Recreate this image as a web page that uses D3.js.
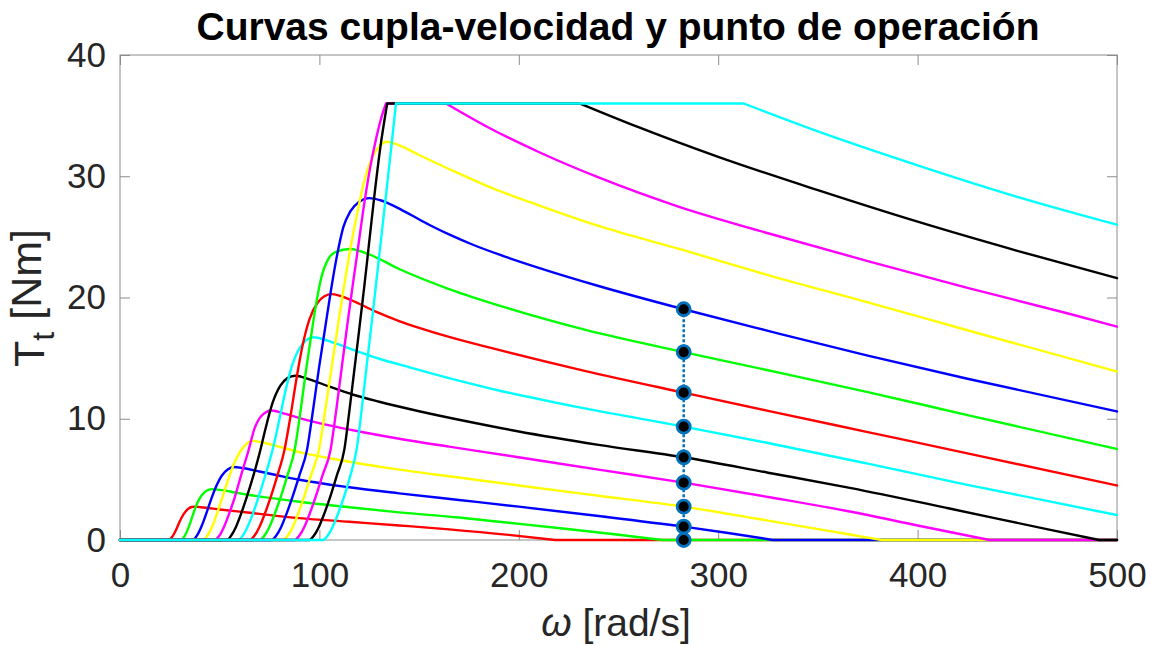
<!DOCTYPE html>
<html>
<head>
<meta charset="utf-8">
<script src="https://cdn.jsdelivr.net/npm/d3@7"></script>
<style>
  body { margin: 0; background: #ffffff; }
  svg { display: block; font-family: "Liberation Sans", Arial, Helvetica, sans-serif; }
</style>
</head>
<body>
<svg id="chart" width="1151" height="646"></svg>
<script>
// Torque–speed curves: each entry is [omega (rad/s), torque (Nm)]
const curveRed1 = [[0,0],[24.2,0],[26,0.22],[28,0.8],[30,1.55],[32,2.15],[34,2.55],[36,2.72],[37.6,2.75],[42,2.68],[50,2.52],[65,2.25],[90,1.8],[115,1.5],[140,1.2],[165,0.88],[195,0.42],[218,0],[500,0]];
const curveGreen1 = [[0,0],[30.4,0],[32.3,0.3],[34.3,1.0],[36.3,1.95],[38.5,2.95],[40.8,3.65],[43.2,4.05],[46,4.2],[50,4.13],[60,3.85],[75,3.47],[90,3.15],[115,2.7],[140,2.28],[170,1.85],[195,1.42],[222,0.95],[248,0.47],[272,0],[500,0]];
const curveBlue1 = [[0,0],[36.4,0],[38.5,0.35],[40.8,1.1],[43.2,2.15],[45.7,3.35],[48.3,4.45],[51,5.3],[54,5.82],[57,6.02],[62,5.92],[70,5.65],[80,5.3],[90,4.97],[115,4.35],[140,3.85],[170,3.3],[200,2.75],[240,1.98],[282.7,1.1],[305,0.58],[327.5,0],[500,0]];
const curveYellow1 = [[0,0],[41.7,0],[43.8,0.35],[46.2,1.1],[48.8,2.25],[51.5,3.6],[54.3,5.0],[57.2,6.3],[60.3,7.3],[63.3,7.9],[66.5,8.18],[72,8.02],[80,7.68],[90,7.25],[110,6.6],[140,5.8],[170,5.15],[200,4.5],[240,3.65],[282.7,2.75],[325,1.6],[366,0.45],[382,0],[500,0]];
const curveMagenta1 = [[0,0],[47.6,0],[49.8,0.35],[52.2,1.1],[54.8,2.2],[57.5,3.5],[61,5.5],[64.3,7.3],[67.5,9.2],[71,10.25],[76,10.68],[82,10.45],[90,10.05],[105,9.45],[120,8.95],[140,8.35],[165,7.7],[195,6.95],[240,5.8],[282.7,4.73],[325,3.55],[366,2.35],[400,1.2],[436,0],[500,0]];
const curveBlack1 = [[0,0],[53.5,0],[55.7,0.35],[58.2,1.1],[60.8,2.2],[63.6,3.55],[66.7,5.2],[69.9,7.1],[73,9.2],[76.5,11.3],[80.5,12.75],[84,13.35],[87.8,13.55],[95,13.25],[105,12.65],[116.6,12.0],[130,11.4],[150,10.62],[175,9.75],[200,8.95],[240,7.85],[282.7,6.82],[325,5.55],[366,4.3],[416,2.6],[466,0.85],[491,0],[500,0]];
const curveCyan1 = [[0,0],[59.3,0],[61.5,0.35],[64,1.1],[66.7,2.2],[69.6,3.6],[72.8,5.3],[76.3,7.3],[79.5,9.6],[83,12.3],[86.5,14.5],[90,15.8],[93.5,16.5],[97,16.72],[104,16.45],[115,15.8],[130,14.95],[145,14.25],[165,13.35],[187,12.45],[233,10.85],[282.7,9.35],[325,8.0],[375,6.3],[425,4.55],[500,2.06]];
const curveRed2 = [[0,0],[65.2,0],[67.4,0.35],[70,1.1],[72.7,2.2],[75.7,3.6],[79,5.35],[82.5,7.45],[85.5,10.2],[88.5,13.3],[91.5,16.0],[95,18.2],[99,19.55],[102.5,20.1],[106.2,20.28],[115,19.85],[128,18.85],[140,18.05],[165,16.75],[187,15.8],[233,13.95],[282.7,12.15],[325,10.65],[375,8.9],[425,7.15],[500,4.5]];
const curveGreen2 = [[0,0],[70.2,0],[72.4,0.35],[75,1.1],[77.7,2.2],[80.7,3.6],[84,5.35],[87.6,7.45],[90.5,10.6],[93.3,14.0],[96,17.0],[98.6,19.7],[101.2,21.8],[104.2,23.1],[108,23.75],[115.5,24.0],[125,23.55],[140,22.35],[165,20.7],[187,19.5],[233,17.35],[282.7,15.5],[325,14.0],[375,12.2],[425,10.3],[500,7.5]];
const curveBlue2 = [[0,0],[76.1,0],[78.3,0.35],[80.9,1.1],[83.6,2.2],[86.6,3.6],[90,5.35],[93.8,7.45],[96.8,10.7],[99.8,14.2],[102.8,17.4],[105.8,20.6],[109,23.6],[112,25.8],[115.5,27.1],[120,27.9],[125,28.2],[131,28.0],[138,27.5],[146,26.8],[155,26.0],[165,25.2],[177,24.35],[190,23.55],[210,22.45],[240,20.95],[282.7,19.03],[325,17.25],[375,15.2],[425,13.3],[500,10.6]];
const curveYellow2 = [[0,0],[81.9,0],[84.1,0.35],[86.7,1.1],[89.4,2.2],[92.4,3.6],[95.8,5.35],[99.8,7.45],[103,10.8],[106.2,14.3],[109.2,17.6],[112.3,20.9],[115.5,24.0],[119,27.0],[123,29.9],[127,31.7],[130.5,32.55],[134,32.85],[140,32.55],[150,31.75],[165,30.6],[187,29.0],[210,27.6],[240,25.9],[282.7,23.9],[325,21.85],[375,19.6],[425,17.3],[500,13.9]];
const curveMagenta2 = [[0,0],[87.7,0],[89.9,0.35],[92.5,1.1],[95.2,2.2],[98.2,3.6],[101.6,5.35],[105.6,7.45],[108.6,10.9],[111.5,14.6],[114.2,18.0],[116.7,21.0],[119.2,23.9],[122,27.2],[125,30.3],[128.3,33.0],[131,34.8],[133.4,36],[163.5,36],[185,34.0],[210,32.0],[240,29.9],[280,27.5],[325,25.3],[375,23.0],[425,20.8],[475,18.7],[500,17.6]];
const curveBlack2 = [[0,0],[95,0],[97.2,0.35],[99.8,1.1],[102.5,2.2],[105.5,3.6],[108.8,5.35],[112.5,7.45],[115,10.6],[117.5,14.0],[120,17.4],[122.5,20.9],[125,24.6],[127.5,28.3],[130.5,32.3],[134,36],[230.7,36],[260,34.05],[300,31.6],[350,28.85],[400,26.25],[450,23.85],[500,21.6]];
const curveCyan2 = [[0,0],[101.9,0],[104.1,0.35],[106.7,1.1],[109.4,2.2],[112.4,3.6],[115.6,5.35],[118.8,7.6],[121.3,10.9],[123.8,14.5],[126.5,18.3],[129.3,22.4],[132.2,26.7],[135.2,31.1],[138.4,36],[312.8,36],[350,33.7],[400,30.9],[450,28.3],[500,26.0]];

const curveColors = ["#ff0000","#00ff00","#0000ff","#ffff00","#ff00ff","#000000","#00ffff",
                     "#ff0000","#00ff00","#0000ff","#ffff00","#ff00ff","#000000","#00ffff"];
const torqueCap = 36;

// Operating points (load speed and torque on each curve)
const opSpeed = 282.7;
const opTorque = [19.03, 15.5, 12.15, 9.35, 6.82, 4.73, 2.75, 1.10, 0];

// Axis ticks
const xTicks = [0, 100, 200, 300, 400, 500];
const yTicks = [0, 10, 20, 30, 40];

const curves = [curveRed1, curveGreen1, curveBlue1, curveYellow1, curveMagenta1, curveBlack1, curveCyan1,
                curveRed2, curveGreen2, curveBlue2, curveYellow2, curveMagenta2, curveBlack2, curveCyan2];

const svg = d3.select("#chart");
const plot = { left: 120, right: 1117, top: 55, bottom: 540 };
const x = d3.scaleLinear().domain([0, 500]).range([plot.left, plot.right]);
const y = d3.scaleLinear().domain([0, 40]).range([plot.bottom, plot.top]);

// Axes box
svg.append("rect")
  .attr("x", plot.left).attr("y", plot.top)
  .attr("width", plot.right - plot.left).attr("height", plot.bottom - plot.top)
  .attr("fill", "none").attr("stroke", "#8c8c8c").attr("stroke-width", 1);

const tickLen = 10;
const axisGroup = svg.append("g");
const xAxis = d3.axisBottom(x).tickValues(xTicks).tickSize(-tickLen).tickPadding(22);
const gx = axisGroup.append("g").attr("transform", `translate(0,${plot.bottom})`).call(xAxis);
const gxTop = axisGroup.append("g").attr("transform", `translate(0,${plot.top})`)
  .call(d3.axisTop(x).tickValues(xTicks).tickSize(-tickLen).tickFormat(""));
const yAxis = d3.axisLeft(y).tickValues(yTicks).tickSize(-tickLen).tickPadding(14);
const gy = axisGroup.append("g").attr("transform", `translate(${plot.left},0)`).call(yAxis);
const gyRight = axisGroup.append("g").attr("transform", `translate(${plot.right},0)`)
  .call(d3.axisRight(y).tickValues(yTicks).tickSize(-tickLen).tickFormat(""));

[gx, gxTop, gy, gyRight].forEach(g => {
  g.select(".domain").remove();
  g.selectAll(".tick line").attr("stroke", "#8c8c8c").attr("stroke-width", 1);
  g.selectAll(".tick text")
    .attr("fill", "#262626")
    .style("font-size", "35px")
    .style("font-family", "'Liberation Sans', Arial, sans-serif");
});
gx.selectAll(".tick text").attr("dy", "0.71em");

// Split a curve at the sharp corners produced by the 0 Nm floor and the torque cap
function pieces(pts) {
  const out = [];
  let cur = [pts[0]];
  for (let i = 1; i < pts.length; i++) {
    const p = pts[i], prev = pts[i - 1], next = pts[i + 1];
    cur.push(p);
    if (!next) break;
    const clamped = p[1] === 0 || p[1] === torqueCap;
    if (clamped) {
      const arrives = prev[1] !== p[1];
      const leavesCap = p[1] === torqueCap && prev[1] === torqueCap && next[1] !== torqueCap;
      if (arrives || leavesCap) { out.push(cur); cur = [p]; }
    }
  }
  out.push(cur);
  return out;
}

const line = d3.line()
  .x(d => x(d[0]))
  .y(d => y(d[1]))
  .curve(d3.curveMonotoneX);

svg.append("g").selectAll("path")
  .data(curves)
  .join("path")
  .attr("d", c => pieces(c).map(p => line(p)).join(""))
  .attr("fill", "none")
  .attr("stroke", (c, i) => curveColors[i])
  .attr("stroke-width", 2.4)
  .attr("stroke-linecap", "round")
  .attr("stroke-linejoin", "round");

// Operating points joined by a dotted line
const opColor = "#0072bd";
const opData = opTorque.map(t => [opSpeed, t]);
svg.append("path")
  .datum(opData)
  .attr("d", d3.line().x(d => x(d[0])).y(d => y(d[1])))
  .attr("fill", "none")
  .attr("stroke", opColor)
  .attr("stroke-width", 2.5)
  .attr("stroke-dasharray", "3,2");

svg.append("g").selectAll("circle")
  .data(opData)
  .join("circle")
  .attr("cx", d => x(d[0]))
  .attr("cy", d => y(d[1]))
  .attr("r", 6.5)
  .attr("fill", "#000000")
  .attr("stroke", opColor)
  .attr("stroke-width", 2.8);

// Title and axis labels
svg.append("text")
  .attr("x", 618).attr("y", 40)
  .attr("text-anchor", "middle")
  .style("font-size", "39px").style("font-weight", "bold")
  .attr("fill", "#000")
  .text("Curvas cupla-velocidad y punto de operación");

const xl = svg.append("text")
  .attr("x", 616).attr("y", 636)
  .attr("text-anchor", "middle")
  .style("font-size", "39px")
  .attr("fill", "#262626");
xl.append("tspan").style("font-style", "italic").text("ω");
xl.append("tspan").text(" [rad/s]");

const yl = svg.append("text")
  .attr("transform", `translate(44,298) rotate(-90)`)
  .attr("text-anchor", "middle")
  .style("font-size", "43px")
  .attr("fill", "#262626");
yl.append("tspan").text("T");
yl.append("tspan").attr("dy", "0.3em").style("font-size", "32px").text("t");
yl.append("tspan").attr("dy", "-0.3em").text(" [Nm]");
</script>
</body>
</html>
